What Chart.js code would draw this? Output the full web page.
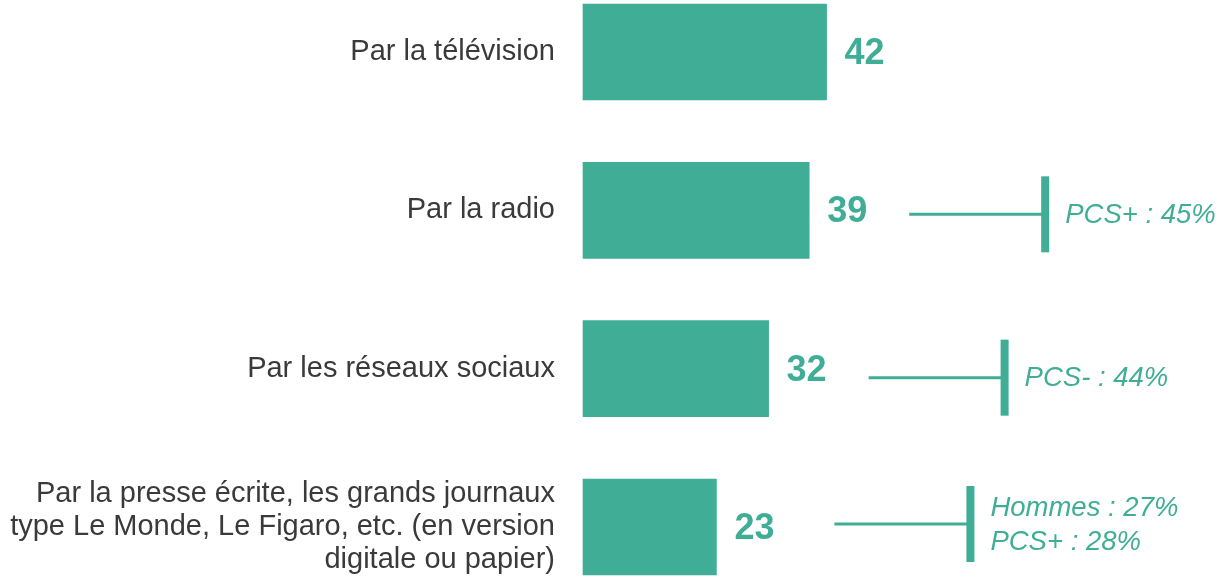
<!DOCTYPE html>
<html>
<head>
<meta charset="utf-8">
<script src="https://cdn.jsdelivr.net/npm/chart.js@4"></script>
<style>
  html, body { margin: 0; padding: 0; background: #fff; }
  #wrap { width: 1221px; height: 580px; position: relative; }
</style>
</head>
<body>
<div id="wrap"><canvas id="chart"></canvas></div>
<script>
// data
const categories = [
  'Par la télévision',
  'Par la radio',
  'Par les réseaux sociaux',
  ['Par la presse écrite, les grands journaux', 'type Le Monde, Le Figaro, etc. (en version', 'digitale ou papier)']
];
const values = [42, 39, 32, 23];
const noteRows = [1, 2, 3];
const noteTexts = [['PCS+ : 45%'], ['PCS- : 44%'], ['Hommes : 27%', 'PCS+ : 28%']];

const TEAL = '#40ae96';
const GREY = '#3a3a3a';
const FONT = "'Liberation Sans', Arial, sans-serif";

// small per-note placement tweaks (px)
const noteShift = [{dx: 0, dy: 4}, {dx: 0, dy: 9}, {dx: 18, dy: -3}];

const valueLabels = {
  id: 'valueLabels',
  afterDatasetsDraw(chart) {
    const ctx = chart.ctx;
    const meta = chart.getDatasetMeta(0);
    ctx.save();
    ctx.font = 'bold 36px ' + FONT;
    ctx.fillStyle = TEAL;
    ctx.textAlign = 'left';
    ctx.textBaseline = 'middle';
    meta.data.forEach((bar, i) => {
      ctx.fillText(String(values[i]), bar.x + 18, bar.y + 2);
    });
    ctx.restore();
  }
};

const notes = {
  id: 'notes',
  afterDatasetsDraw(chart) {
    const ctx = chart.ctx;
    const meta = chart.getDatasetMeta(0);
    ctx.save();
    noteRows.forEach((row, k) => {
      const bar = meta.data[row];
      const s = noteShift[k];
      const x0 = bar.x + s.dx;
      const cy = bar.y + s.dy;
      // connector
      ctx.strokeStyle = TEAL;
      ctx.lineWidth = 3;
      ctx.beginPath();
      ctx.moveTo(x0 + 100, cy);
      ctx.lineTo(x0 + 234, cy);
      ctx.stroke();
      // bracket
      ctx.fillStyle = TEAL;
      ctx.fillRect(x0 + 232, cy - 38, 8, 76);
      // text
      ctx.font = 'italic 27.5px ' + FONT;
      ctx.textAlign = 'left';
      ctx.textBaseline = 'middle';
      const lines = noteTexts[k];
      const step = 34;
      lines.forEach((t, j) => {
        const y = cy + (j - (lines.length - 1) / 2) * step + 1;
        ctx.fillText(t, x0 + 256, y);
      });
    });
    ctx.restore();
  }
};

new Chart(document.getElementById('chart'), {
  type: 'bar',
  data: {
    labels: categories,
    datasets: [{
      data: values,
      backgroundColor: TEAL,
      borderWidth: 0,
      barThickness: 96,
      clip: false
    }]
  },
  options: {
    indexAxis: 'y',
    responsive: true,
    maintainAspectRatio: false,
    animation: false,
    layout: { padding: { top: 52, bottom: 53, right: 58, left: 0 } },
    plugins: {
      legend: { display: false },
      tooltip: { enabled: false }
    },
    scales: {
      x: {
        display: false,
        min: 0,
        max: 100
      },
      y: {
        offset: false,
        grid: { display: false, drawTicks: false, offset: false },
        border: { display: false },
        afterFit(scale) {
          scale.width = 583;
          scale.paddingTop = 0;
          scale.paddingBottom = 0;
        },
        ticks: {
          padding: 28,
          color: GREY,
          font: { family: FONT, size: 29, lineHeight: 1.14 }
        }
      }
    }
  },
  plugins: [valueLabels, notes]
});
</script>
</body>
</html>
